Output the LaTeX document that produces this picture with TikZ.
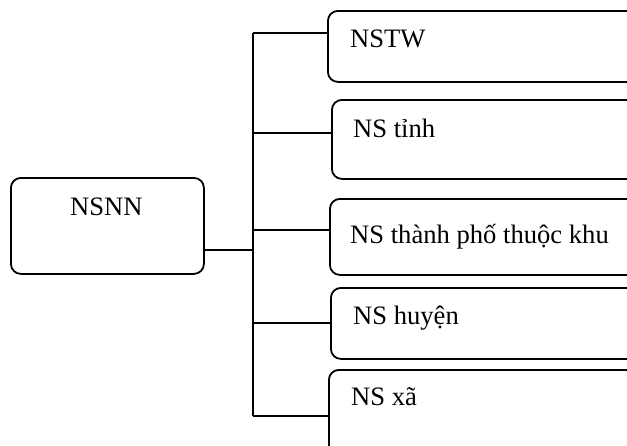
\documentclass[tikz,border=0pt]{standalone}
\usepackage{fontspec}
\setmainfont{Liberation Serif}
\begin{document}
\begin{tikzpicture}[x=1pt,y=-1pt,
  box/.style={draw=black, line width=1.8pt, rounded corners=10pt, rectangle,
    inner sep=0pt, anchor=north west},
  lbl/.style={anchor=base west, inner sep=0pt, font=\fontsize{26.6}{30}\selectfont},
  wire/.style={draw=black, line width=1.8pt}]
\useasboundingbox (0,0) rectangle (627,445);
\clip (0,0) rectangle (627,445);

% root box
\node[box, minimum width=193pt, minimum height=96pt] (nsnn) at (10,177) {};
\node[lbl] (tnsnn) at (70,215) {NSNN};

% child boxes (running past the right border)
\node[box, minimum width=340pt, minimum height=71pt] (b1) at (327,10) {};
\node[box, minimum width=340pt, minimum height=79pt] (b2) at (331,99) {};
\node[box, minimum width=340pt, minimum height=76pt] (b3) at (329,198) {};
\node[box, minimum width=340pt, minimum height=71pt] (b4) at (330,287) {};
\node[box, minimum width=340pt, minimum height=90pt] (b5) at (328,369) {};

\node[lbl] (t1) at (350,47) {NSTW};
\node[lbl] (t2) at (353,137) {NS tỉnh};
\node[lbl] (t3) at (350,243) {NS thành phố thuộc khu};
\node[lbl] (t4) at (353,324) {NS huyện};
\node[lbl] (t5) at (351,405) {NS xã};

% bus junctions
\coordinate (j1) at (253,33);
\coordinate (j2) at (253,133);
\coordinate (j3) at (253,230);
\coordinate (j0) at (253,250);
\coordinate (j4) at (253,323);
\coordinate (j5) at (253,416);

\draw[wire] (j1) -- (j5);
\draw[wire] (j0 -| nsnn.east) -- (j0);
\foreach \j/\b in {j1/b1,j2/b2,j3/b3,j4/b4,j5/b5}
  \draw[wire] (\j) -- (\j -| \b.west);
\end{tikzpicture}
\end{document}
